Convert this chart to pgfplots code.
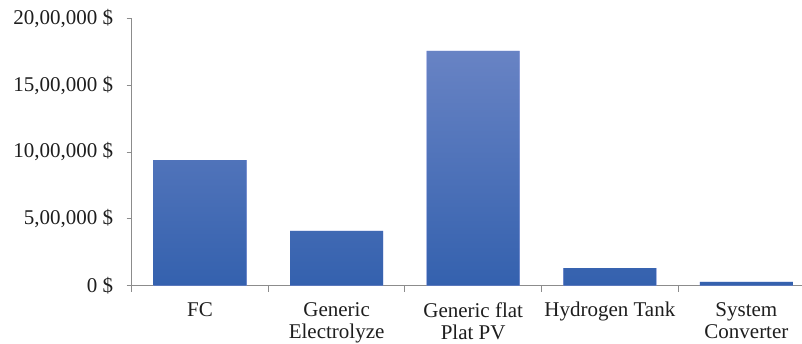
\documentclass[border=0pt]{standalone}
\usepackage{pgfplots}
\pgfplotsset{compat=1.18}
\usepackage{fontspec}
\setmainfont{Liberation Serif}
\definecolor{barTop}{HTML}{6883C4}
\definecolor{barBottom}{HTML}{3461AE}
\definecolor{axisGray}{HTML}{8C8C8C}
\definecolor{labelInk}{HTML}{1E1E1E}
\begin{document}
\begin{tikzpicture}
\path[use as bounding box] (-131.7pt,-57.3pt) rectangle (670.3pt,285.7pt);
\begin{axis}[
  scale only axis,
  width=683pt, height=267.4pt,
  xmin=-0.5, xmax=4.5,
  ymin=0, ymax=2000000,
  scaled y ticks=false,
  axis lines*=left,
  axis line style={axisGray, line width=1.2pt},
  clip=false,
  ybar, bar width=93pt,
  xtick={0,1,2,3,4},
  xticklabels={FC, Generic\\Electrolyze, Generic flat\\Plat PV, Hydrogen Tank, System\\Converter},
  minor xtick={-0.5,0.5,1.5,2.5,3.5},
  ytick={0,500000,1000000,1500000,2000000},
  yticklabels={0 \$, {5,00,000 \$}, {10,00,000 \$}, {15,00,000 \$}, {20,00,000 \$}},
  tick align=outside,
  major x tick style={draw=none},
  minor x tick style={axisGray, line width=1pt},
  minor tick length=6pt,
  ytick style={axisGray, line width=1pt},
  major tick length=5pt,
  xticklabel style={align=center, font=\fontsize{21}{22}\selectfont, text=labelInk, yshift=-8pt},
  yticklabel style={font=\fontsize{21}{22}\selectfont, text=labelInk, xshift=-10pt},
  every axis plot/.append style={draw=none, shade, top color=barTop, bottom color=barBottom},
]
\addplot coordinates {(0,940000) (1,410000) (2,1756000) (3,132000) (4,28000)};
\end{axis}
\end{tikzpicture}
\end{document}
